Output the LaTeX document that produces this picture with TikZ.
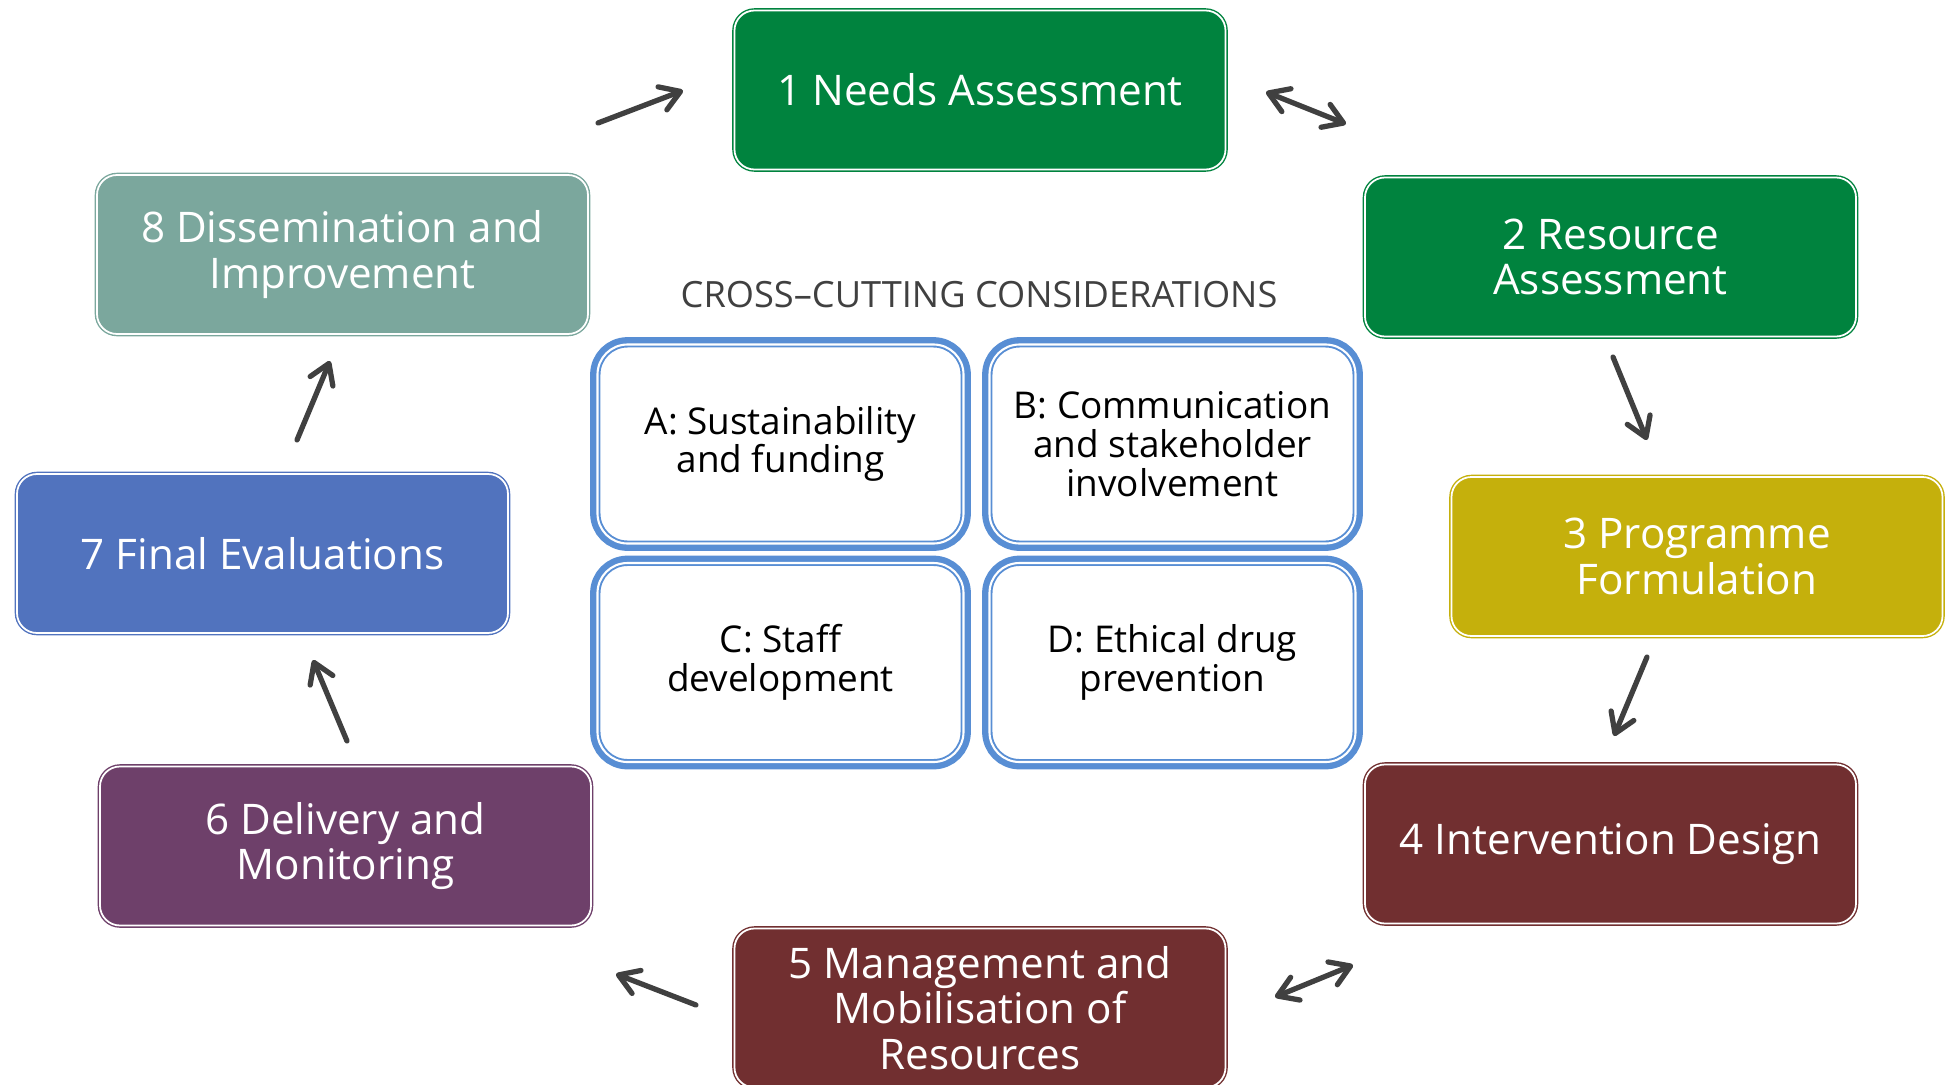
\documentclass[tikz,border=0pt]{standalone}
\usepackage{fontspec}
\setmainfont{Open Sans}
\usetikzlibrary{arrows.meta}
\definecolor{needsgreen}{RGB}{0,131,62}
\definecolor{dissemgreen}{RGB}{123,167,157}
\definecolor{progyellow}{RGB}{197,176,12}
\definecolor{designred}{RGB}{113,47,48}
\definecolor{deliverpurple}{RGB}{110,64,106}
\definecolor{finalblue}{RGB}{81,115,190}
\definecolor{crossblue}{RGB}{88,142,212}
\definecolor{arrowgray}{RGB}{64,64,64}

\begin{document}
\begin{tikzpicture}[
    stage/.style={rounded corners=0.2cm, minimum width=4.91cm, minimum height=1.59cm,
        align=center, text=white, font=\fontsize{12}{13}\selectfont,
        draw=#1, fill=#1, line width=0.4pt, double=white, double distance=0.5pt},
    crossbox/.style={rounded corners=0.3cm, minimum width=3.66cm, minimum height=1.99cm,
        align=center, font=\fontsize{10.5}{11}\selectfont, fill=white,
        preaction={draw=crossblue, line width=4.2pt},
        draw=crossblue, line width=0.55pt, double=white, double distance=0.6pt},
    flow/.style={draw=arrowgray, line width=1.5pt, line cap=round,
        -{Straight Barb[length=5.5pt,width=7pt,round]}},
    twoway/.style={draw=arrowgray, line width=1.5pt, line cap=round,
        {Straight Barb[length=5.5pt,width=7pt,round]}-{Straight Barb[length=5.5pt,width=7pt,round]}}]
    \useasboundingbox (0,0) rectangle (19.5,-10.85);

    % Programme cycle
    \node[stage=needsgreen] (needs) at (9.80,-0.90) {1 Needs Assessment};
    \node[stage=needsgreen] (resource) at (16.105,-2.57) {2 Resource\\Assessment};
    \node[stage=progyellow] (programme) at (16.97,-5.565) {3 Programme\\Formulation};
    \node[stage=designred] (design) at (16.105,-8.44) {4 Intervention Design};
    \node[stage=designred] (manage) at (9.80,-10.08) {5 Management and\\Mobilisation of\\Resources};
    \node[stage=deliverpurple] (deliver) at (3.455,-8.46) {6 Delivery and\\Monitoring};
    \node[stage=finalblue] (final) at (2.625,-5.535) {7 Final Evaluations};
    \node[stage=dissemgreen] (dissem) at (3.425,-2.545) {8 Dissemination and\\Improvement};

    % Cross-cutting considerations
    \node[text=arrowgray, font=\fontsize{10.3}{12}\selectfont] (crosstitle) at (9.79,-2.95) {CROSS--CUTTING CONSIDERATIONS};
    \node[crossbox] (sustain) at (7.805,-4.44) {A: Sustainability\\and funding};
    \node[crossbox] (comms) at (11.725,-4.44) {B: Communication\\and stakeholder\\involvement};
    \node[crossbox] (staff) at (7.805,-6.625) {C: Staff\\development};
    \node[crossbox] (ethics) at (11.725,-6.625) {D: Ethical drug\\prevention};

    % Arrow ends between the stages
    \coordinate (s81) at (5.98,-1.23);   \coordinate (e81) at (6.83,-0.905);
    \coordinate (s12) at (12.66,-0.92);  \coordinate (e12) at (13.46,-1.24);
    \coordinate (s23) at (16.13,-3.57);  \coordinate (e23) at (16.47,-4.40);
    \coordinate (s34) at (16.47,-6.57);  \coordinate (e34) at (16.14,-7.36);
    \coordinate (s45) at (13.53,-9.65);  \coordinate (e45) at (12.75,-9.97);
    \coordinate (s56) at (6.96,-10.05);  \coordinate (e56) at (6.16,-9.74);
    \coordinate (s67) at (3.47,-7.41);   \coordinate (e67) at (3.13,-6.60);
    \coordinate (s78) at (2.97,-4.40);   \coordinate (e78) at (3.30,-3.61);

    % Arrows
    \draw[flow] (s81) -- (e81);
    \draw[twoway] (s12) -- (e12);
    \draw[flow] (s23) -- (e23);
    \draw[flow] (s34) -- (e34);
    \draw[twoway] (s45) -- (e45);
    \draw[flow] (s56) -- (e56);
    \draw[flow] (s67) -- (e67);
    \draw[flow] (s78) -- (e78);
\end{tikzpicture}
\end{document}
